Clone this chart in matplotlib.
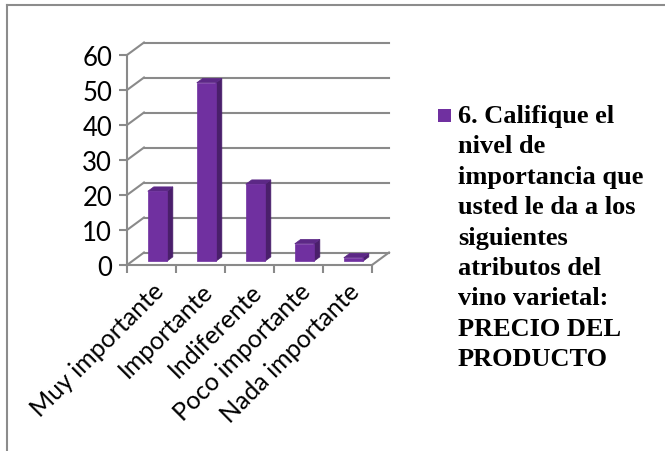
import matplotlib.pyplot as plt
from matplotlib.patches import Polygon, Rectangle
from matplotlib.lines import Line2D

categories = ["Muy importante", "Importante", "Indiferente",
              "Poco importante", "Nada importante"]
values = [20, 51, 22, 5, 1]
y_ticks = [0, 10, 20, 30, 40, 50, 60]
legend_text = ("6. Califique el\nnivel de\nimportancia que\nusted le da a los\n"
               "siguientes\natributos del\nvino varietal:\nPRECIO DEL\nPRODUCTO")

# 3D look: depth offset of back wall in data units
DX, DY = 0.347, 3.57
BAR_D0, BAR_D1 = 0.30, 0.65
BAR_LEFT, BAR_W = 0.32, 0.39

FRONT = "#7030A0"
SIDE = "#4A1F6B"
TOP = "#5C2886"
GRID = "#8A8A8A"

fig = plt.figure(figsize=(6.65, 4.52), dpi=100)
ax = fig.add_axes([127 / 665, 1 - 266 / 452, 245 / 665, 210 / 452])
ax.set_xlim(0, 5)
ax.set_ylim(0, 60)
ax.patch.set_visible(False)


def shift(x, y, d):
    return (x + d * DX, y + d * DY)


# back wall gridlines + side slants
for t in y_ticks:
    ax.add_line(Line2D([DX, 5 + DX], [t + DY, t + DY], color=GRID, lw=1.5,
                       clip_on=False, zorder=1))
    ax.add_line(Line2D([0, DX], [t, t + DY], color=GRID, lw=1.5,
                       clip_on=False, zorder=1))
# floor right edge
ax.add_line(Line2D([5, 5 + DX], [0, DY], color=GRID, lw=1.5,
                   clip_on=False, zorder=1))

# bars
for i, v in enumerate(values):
    x0 = i + BAR_LEFT
    x1 = x0 + BAR_W
    a = shift(x0, 0, BAR_D0)
    b = shift(x1, 0, BAR_D0)
    c = shift(x1, v, BAR_D0)
    d = shift(x0, v, BAR_D0)
    front = [a, b, c, d]
    side = [b, shift(x1, 0, BAR_D1), shift(x1, v, BAR_D1), c]
    top = [d, c, shift(x1, v, BAR_D1), shift(x0, v, BAR_D1)]
    for pts, col in ((side, SIDE), (top, TOP), (front, FRONT)):
        ax.add_patch(Polygon(pts, closed=True, facecolor=col, edgecolor=col,
                             lw=0.5, clip_on=False, zorder=3))

for s in ("top", "right"):
    ax.spines[s].set_visible(False)
for s in ("left", "bottom"):
    ax.spines[s].set_color(GRID)
    ax.spines[s].set_linewidth(1.5)

ax.set_yticks(y_ticks)
ax.set_yticklabels([str(t) for t in y_ticks], fontsize=18.5, family="Lato")
ax.tick_params(axis="y", length=5.8, width=1.5, color=GRID, pad=5)

ax.set_xticks([i + 0.5 for i in range(len(categories))])
ax.set_xticklabels(categories, rotation=45, ha="right",
                   rotation_mode="anchor", fontsize=18, family="Lato")
ax.set_xticks(range(len(categories) + 1), minor=True)
ax.tick_params(axis="x", which="major", length=0, pad=10)
ax.tick_params(axis="x", which="minor", length=5.8, width=1.5, color=GRID)

# legend
fig.patches.append(Rectangle((438 / 665, 1 - 123 / 452), 13 / 665, 13 / 452,
                             transform=fig.transFigure, facecolor=FRONT,
                             edgecolor="none"))
fig.text(458 / 665, 1 - 105 / 452, legend_text, ha="left", va="top",
         fontsize=19, fontweight="bold", family="Liberation Serif",
         linespacing=1.41)

# outer frame (top and left visible)
fig.add_artist(Line2D([7 / 665, 1], [1 - 6 / 452, 1 - 6 / 452],
                      transform=fig.transFigure, color="#8C8C8C", lw=1.5))
fig.add_artist(Line2D([7 / 665, 7 / 665], [0, 1 - 6 / 452],
                      transform=fig.transFigure, color="#8C8C8C", lw=1.5))

fig.savefig("out.png", dpi=100)
